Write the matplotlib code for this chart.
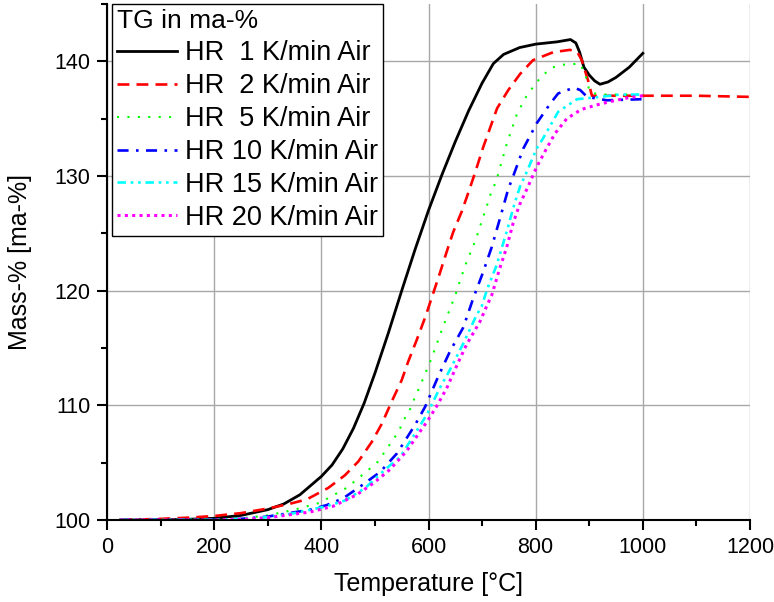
import matplotlib
matplotlib.use("Agg")
import matplotlib.pyplot as plt
from matplotlib.ticker import MultipleLocator

plt.rcParams['font.family'] = ['Liberation Sans', 'DejaVu Sans']

# ---- data (temperature in °C, mass in ma-%) ----
t_1 = [25, 100, 150, 200, 250, 300, 330, 360, 400, 420, 440, 460, 480, 500, 525, 550,
       575, 600, 625, 650, 675, 700, 721, 740, 770, 800, 840, 865, 875, 882, 890, 900,
       910, 920, 935, 950, 975, 1000]
m_1 = [100.0, 100.02, 100.06, 100.15, 100.4, 100.9, 101.4, 102.2, 103.8, 104.8, 106.2,
       108.0, 110.2, 112.8, 116.3, 120.0, 123.6, 127.0, 130.1, 133.0, 135.7, 138.1,
       139.8, 140.6, 141.2, 141.5, 141.7, 141.9, 141.6, 140.8, 139.5, 138.8, 138.3,
       138.0, 138.2, 138.6, 139.5, 140.7]

t_2 = [25, 100, 150, 200, 250, 300, 340, 373, 413, 444, 469, 494, 513, 531, 550, 562,
       578, 594, 609, 621, 634, 646, 662, 674, 687, 702, 728, 749, 771, 795, 833, 864,
       878, 886, 898, 905, 920, 1000, 1100, 1200]
m_2 = [100.0, 100.1, 100.2, 100.35, 100.6, 101.0, 101.4, 101.8, 102.8, 103.9, 105.1,
       106.8, 108.4, 110.3, 112.2, 113.8, 115.7, 117.7, 119.8, 121.5, 123.4, 125.1,
       126.9, 128.5, 130.3, 132.5, 135.9, 137.5, 138.9, 140.1, 140.8, 141.0, 140.8,
       140.1, 138.3, 137.0, 137.0, 137.0, 137.0, 136.9]

t_5 = [25, 100, 200, 250, 300, 350, 397, 447, 481, 506, 525, 544, 556, 566, 572, 587,
       603, 612, 625, 640, 650, 659, 671, 687, 699, 709, 715, 724, 729, 746, 765, 782,
       802, 827, 849, 883, 893, 901, 920, 1000]
m_5 = [100.0, 100.0, 100.05, 100.15, 100.4, 100.9, 101.5, 102.8, 104.1, 105.1, 106.4,
       107.7, 108.9, 109.7, 110.4, 112.0, 113.8, 114.9, 116.6, 118.4, 119.6, 120.9,
       122.5, 124.3, 126.0, 127.4, 128.3, 129.3, 130.0, 132.8, 135.4, 136.9, 138.2,
       139.4, 139.7, 139.8, 138.8, 137.3, 137.1, 137.1]

t_10 = [25, 200, 250, 300, 340, 379, 410, 441, 478, 510, 541, 575, 594, 618, 640, 665,
        684, 701, 718, 734, 749, 755, 777, 802, 827, 842, 871, 883, 896, 933, 1000]
m_10 = [100.0, 100.02, 100.1, 100.3, 100.6, 100.9, 101.3, 101.9, 103.1, 104.2, 105.8,
        108.3, 109.9, 112.5, 114.7, 116.8, 119.4, 121.5, 123.8, 126.4, 128.9, 129.6,
        132.4, 134.6, 136.3, 137.2, 137.7, 137.5, 136.9, 136.6, 136.7]

t_15 = [25, 200, 250, 300, 350, 410, 444, 482, 519, 547, 569, 597, 621, 640, 665, 690,
        699, 710, 727, 745, 760, 771, 780, 802, 814, 842, 877, 900, 957, 1000]
m_15 = [100.0, 100.02, 100.08, 100.25, 100.6, 101.2, 101.7, 102.8, 104.4, 105.5, 107.1,
        109.2, 111.5, 113.1, 115.4, 117.9, 118.6, 120.2, 122.2, 125.0, 127.5, 129.1,
        130.0, 132.4, 133.3, 135.6, 136.7, 136.8, 137.1, 137.1]

t_20 = [25, 200, 250, 300, 340, 379, 422, 466, 497, 528, 559, 584, 599, 615, 634, 656,
        671, 696, 709, 718, 732, 746, 758, 770, 785, 802, 818, 836, 858, 885, 914, 940,
        970, 1000]
m_20 = [100.0, 100.0, 100.05, 100.2, 100.45, 100.7, 101.2, 102.2, 103.2, 104.4, 106.0,
        107.7, 108.7, 109.9, 111.5, 113.8, 115.3, 117.3, 118.7, 119.6, 121.8, 123.8,
        125.9, 127.5, 129.0, 130.8, 132.2, 133.7, 135.0, 135.8, 136.2, 136.5, 136.8,
        137.0]

labels = ["HR  1 K/min Air", "HR  2 K/min Air", "HR  5 K/min Air",
          "HR 10 K/min Air", "HR 15 K/min Air", "HR 20 K/min Air"]
legend_title = "TG in ma-%"
x_label = "Temperature [°C]"
y_label = "Mass-% [ma-%]"

fig = plt.figure(figsize=(7.74, 6.02), dpi=100)
ax = fig.add_axes([107/774, 82/602, 643/774, 516/602])

series = [
    (t_1, m_1, dict(color='black', lw=2.0, linestyle='-')),
    (t_2, m_2, dict(color='#ff0000', lw=1.9, linestyle=(0, (4.5, 2.7)))),
    (t_5, m_5, dict(color='#00ff00', lw=1.5, linestyle=(0, (1, 4)))),
    (t_10, m_10, dict(color='#0000ff', lw=1.9, linestyle=(0, (4.2, 2.8, 1, 2.8)))),
    (t_15, m_15, dict(color='#00ffff', lw=1.9, linestyle=(0, (3.2, 1.8, 1, 1.8, 1, 1.8)))),
    (t_20, m_20, dict(color='#ff00ff', lw=2.2, linestyle=(0, (1, 1.4)))),
]
for (t, m, st), lab in zip(series, labels):
    ax.plot(t, m, label=lab, **st)

ax.set_xlim(0, 1200)
ax.set_ylim(100, 145)
ax.xaxis.set_major_locator(MultipleLocator(200))
ax.xaxis.set_minor_locator(MultipleLocator(100))
ax.yaxis.set_major_locator(MultipleLocator(10))
ax.yaxis.set_minor_locator(MultipleLocator(5))

ax.grid(True, which='major', color='#a8a8a8', lw=1.0)
ax.set_axisbelow(True)
for s in ['top', 'right']:
    ax.spines[s].set_visible(False)
for s in ['left', 'bottom']:
    ax.spines[s].set_linewidth(1.5)
    ax.spines[s].set_zorder(5)
ax.tick_params(which='major', direction='out', length=7, width=1.5, labelsize=15.5, pad=5)
ax.tick_params(which='minor', direction='out', length=4, width=1.5)

ax.set_xlabel(x_label, fontsize=18, labelpad=10)
ax.set_ylabel(y_label, fontsize=18, labelpad=16)

leg = ax.legend(title=legend_title, loc='upper left', bbox_to_anchor=(0.007, 1.0),
                fontsize=19.5, title_fontsize=19, alignment='left', frameon=True,
                fancybox=False, edgecolor='black', framealpha=1, handlelength=2.2,
                handletextpad=0.3, labelspacing=0.255, borderpad=0.2, borderaxespad=0.0)
leg.get_frame().set_linewidth(1.0)

fig.savefig("out.png", dpi=100)
